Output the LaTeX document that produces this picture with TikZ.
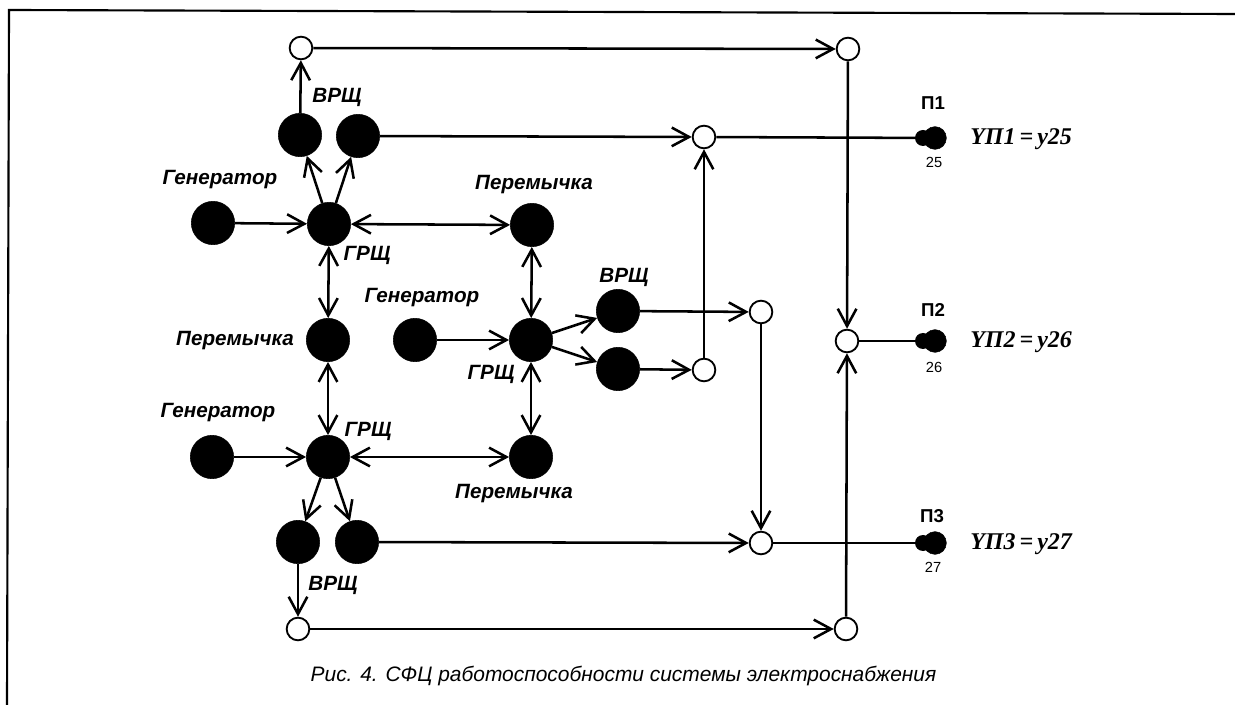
\documentclass[tikz,border=0pt]{standalone}
\usepackage{fontspec}
\setmainfont{Liberation Sans}
\newfontfamily\serifbf{Liberation Serif}
\usetikzlibrary{arrows.meta}
\tikzset{
  x=0.75pt,y=-0.75pt,
  blk/.style={circle,fill=black,draw=black,inner sep=0pt,minimum size=32.5pt},
  port/.style={circle,fill=black,draw=black,inner sep=0pt,minimum size=17pt},
  wht/.style={circle,fill=white,draw=black,line width=1.4pt,inner sep=0pt,minimum size=17pt},
  conn/.style={line width=1.9pt,-{Straight Barb[length=13pt,width=14pt,line width=1.9pt]}},
  dconn/.style={line width=1.9pt,{Straight Barb[length=13pt,width=14pt,line width=1.9pt]}-{Straight Barb[length=13pt,width=14pt,line width=1.9pt]}},
  plain/.style={line width=1.9pt},
  lab/.style={font=\bfseries\itshape\fontsize{15.5pt}{17pt}\selectfont,inner sep=0pt},
  plab/.style={font=\bfseries\fontsize{14pt}{15pt}\selectfont,inner sep=0pt},
  nlab/.style={font=\fontsize{11pt}{12pt}\selectfont,inner sep=0pt},
  eq/.style={font=\serifbf\bfseries\itshape\fontsize{18pt}{19pt}\selectfont,inner sep=0pt,anchor=west},
}
\begin{document}
\begin{tikzpicture}
\useasboundingbox (0,0) rectangle (1235,705);
\coordinate (fa) at (7,705);
\coordinate (fb) at (9,10);
\coordinate (fc) at (1235,14);
\draw[line width=1.6pt] (fa) -- (fb) -- (fc);
% junctions
\node[wht] (t1) at (301,48) {};
\node[wht] (t2) at (848,49) {};
\node[wht] (u1) at (704,137) {};
\node[wht] (m1) at (761,312) {};
\node[wht] (m2) at (847,341) {};
\node[wht] (m3) at (704,370) {};
\node[wht] (b1) at (761,543) {};
\node[wht] (b2) at (298,629) {};
\node[wht] (b3) at (846,629) {};
% black
\node[blk] (v1) at (300,135) {};
\node[blk] (v2) at (358,136) {};
\node[blk] (g1) at (213,223) {};
\node[blk] (r1) at (329,224) {};
\node[blk] (j1) at (532,225) {};
\node[blk] (j2) at (328,340) {};
\node[blk] (g2) at (415,340) {};
\node[blk] (r2) at (531,340) {};
\node[blk] (v3) at (618,311) {};
\node[blk] (v4) at (618,369) {};
\node[blk] (g3) at (212,457) {};
\node[blk] (r3) at (328,457) {};
\node[blk] (j3) at (531,457) {};
\node[blk] (v5) at (298,542) {};
\node[blk] (v6) at (357,542) {};
% ports
\node[port] (p1) at (935,138) {};
\node[port] (p2) at (935,341) {};
\node[port] (p3) at (935,543) {};
% connectors
\draw[conn] (v1) -- (t1);
\draw[conn] (t1) -- (t2);
\draw[conn] (t2) -- (m2);
\draw[conn] (r1) -- (v1);
\draw[conn] (r1) -- (v2);
\draw[conn] (v2) -- (u1);
\draw[conn] (m3) -- (u1);
\draw[plain] (u1) -- (p1);
\draw[conn] (g1) -- (r1);
\draw[dconn] (r1) -- (j1);
\draw[dconn] (r1) -- (j2);
\draw[dconn] (j1) -- (r2);
\draw[dconn] (j2) -- (r3);
\draw[conn] (g2) -- (r2);
\draw[conn] (r2) -- (v3);
\draw[conn] (r2) -- (v4);
\draw[conn] (v3) -- (m1);
\draw[conn] (v4) -- (m3);
\draw[conn] (m1) -- (b1);
\draw[dconn] (r2) -- (j3);
\draw[conn] (g3) -- (r3);
\draw[dconn] (r3) -- (j3);
\draw[conn] (r3) -- (v5);
\draw[conn] (r3) -- (v6);
\draw[conn] (v6) -- (b1);
\draw[conn] (v5) -- (b2);
\draw[conn] (b2) -- (b3);
\draw[conn] (b3) -- (m2);
\draw[plain] (m2) -- (p2);
\draw[plain] (b1) -- (p3);
% port blobs
\fill (923,138) circle (8);
\fill (923,341) circle (8);
\fill (923,543) circle (8);
% labels
\node[lab] (a1) at (337,97) {ВРЩ};
\node[lab] (a2) at (220,180) {Генератор};
\node[lab] (a3) at (534,185) {Перемычка};
\node[lab] (a4) at (367,255) {ГРЩ};
\node[lab] (a5) at (422,298) {Генератор};
\node[lab] (a6) at (624,277) {ВРЩ};
\node[lab] (a7) at (235,341) {Перемычка};
\node[lab] (a8) at (491,374) {ГРЩ};
\node[lab] (a9) at (218,413) {Генератор};
\node[lab] (a10) at (368,431) {ГРЩ};
\node[lab] (a11) at (514,494) {Перемычка};
\node[lab] (a12) at (333,585) {ВРЩ};
\node[plab] (l1) at (933,103) {П1};
\node[plab] (l2) at (933,310) {П2};
\node[plab] (l3) at (932,516) {П3};
\node[nlab] (n1) at (934,162) {25};
\node[nlab] (n2) at (934,367) {26};
\node[nlab] (n3) at (933,567) {27};
\node[eq] (e1) at (970,139) {YП1\,=\,y25};
\node[eq] (e2) at (970,342) {YП2\,=\,y26};
\node[eq] (e3) at (970,544) {YП3\,=\,y27};
\node[font=\itshape\fontsize{15.7pt}{17pt}\selectfont,inner sep=0pt] (cap) at (623.5,676) {Рис. 4. СФЦ работоспособности системы электроснабжения};
\end{tikzpicture}
\end{document}
